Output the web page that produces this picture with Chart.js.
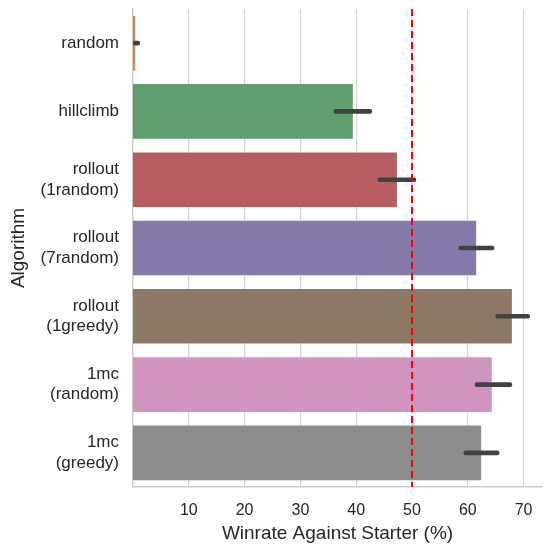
<!DOCTYPE html>
<html>
<head>
<meta charset="utf-8">
<script src="https://cdn.jsdelivr.net/npm/chart.js@4/dist/chart.umd.min.js"></script>
<style>
  html, body { margin: 0; padding: 0; background: #fff; }
  #wrap { width: 544px; height: 545px; }
</style>
</head>
<body>
<div id="wrap"><canvas id="c" width="544" height="545"></canvas></div>
<script>
const algorithms = [["random"], ["hillclimb"], ["rollout", "(1random)"], ["rollout", "(7random)"],
                    ["rollout", "(1greedy)"], ["1mc", "(random)"], ["1mc", "(greedy)"]]
const winrate = [0.4, 39.4, 47.3, 61.5, 67.9, 64.3, 62.4]
const errLow = [0.0, 36.0, 43.9, 58.4, 65.0, 61.3, 59.3]
const errHigh = [1.2, 42.8, 50.7, 64.7, 71.1, 67.9, 65.6]
const xTicks = [10, 20, 30, 40, 50, 60, 70]
const threshold = 50
const barColors = ["#D1885C", "#5F9E6E", "#B55D60", "#857AAB", "#8D7866", "#D095BF", "#8C8C8C"]

const font = "'Liberation Sans', Arial, sans-serif"
const textColor = "#262626"

// dashed red line at 50%
const vline = {
  id: "vline",
  afterDatasetsDraw(chart) {
    let x = chart.scales.x.getPixelForValue(threshold)
    let area = chart.chartArea
    let ctx = chart.ctx
    ctx.save()
    ctx.strokeStyle = "#ff0000"
    ctx.lineWidth = 2
    ctx.setLineDash([7, 4])
    ctx.beginPath()
    ctx.moveTo(x, area.top)
    ctx.lineTo(x, area.bottom)
    ctx.stroke()
    ctx.restore()
  }
}

new Chart(document.getElementById("c"), {
  type: "bar",
  data: {
    labels: algorithms,
    datasets: [
      {
        data: winrate,
        backgroundColor: barColors,
        borderWidth: 0,
        categoryPercentage: 1,
        barPercentage: 0.8,
        grouped: false,
        order: 2
      },
      {
        data: errLow.map((v, i) => [v, errHigh[i]]),
        backgroundColor: "#424242",
        borderWidth: 0,
        barThickness: 4,
        grouped: false,
        borderRadius: 2,
        borderSkipped: false,
        order: 1
      }
    ]
  },
  options: {
    indexAxis: "y",
    responsive: false,
    animation: false,
    layout: { padding: { top: 9, right: 2, left: 7, bottom: 0 } },
    plugins: { legend: { display: false }, tooltip: { enabled: false } },
    scales: {
      x: {
        min: 0,
        max: 73.3,
        afterBuildTicks(scale) { scale.ticks = xTicks.map(v => ({ value: v })) },
        afterFit(scale) { scale.height = 58; scale.paddingLeft = 0; scale.paddingRight = 0 },
        grid: { color: "#d6d6d6", lineWidth: 1.2, drawTicks: false },
        border: { color: "#cccccc", width: 1.5 },
        ticks: { color: textColor, font: { family: font, size: 16 }, padding: 14 },
        title: { display: true, text: "Winrate Against Starter (%)", color: textColor,
                 font: { family: font, size: 19 }, padding: { top: 0, bottom: 0 } }
      },
      y: {
        afterFit(scale) { scale.width = 126; scale.paddingTop = 0; scale.paddingBottom = 0 },
        grid: { display: false, drawTicks: false },
        border: { color: "#cccccc", width: 1.5 },
        ticks: { color: textColor, font: { family: font, size: 17 }, padding: 14 },
        title: { display: true, text: "Algorithm", color: textColor,
                 font: { family: font, size: 19 }, padding: { top: 0, bottom: 0 } }
      }
    }
  },
  plugins: [vline]
})
</script>
</body>
</html>
